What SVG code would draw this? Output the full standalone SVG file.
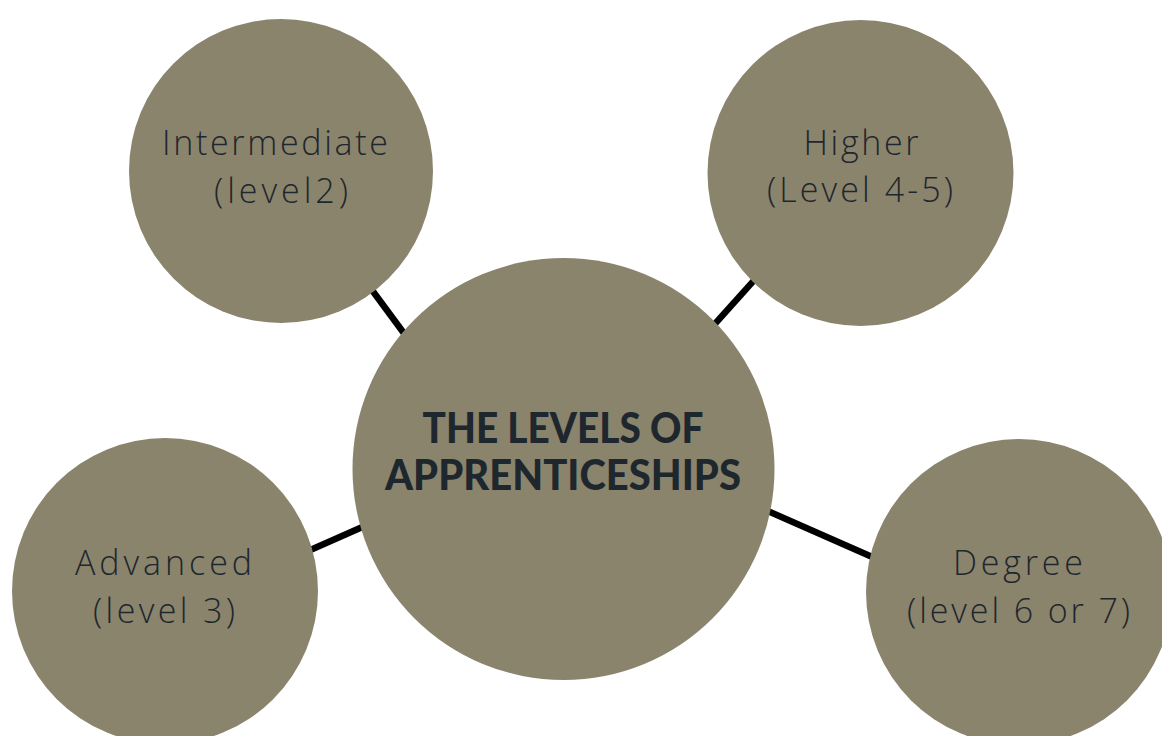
<svg xmlns="http://www.w3.org/2000/svg" width="1162" height="736" viewBox="0 0 1162 736">
  <style>
    .node { fill: #8a846c; }
    .conn { stroke: #000000; stroke-width: 6.5; stroke-linecap: butt; fill: none; }
    .lbl { font-family: "Open Sans", "Liberation Sans", sans-serif; font-weight: 300; font-size: 34px; fill: #1f272e; text-anchor: middle; }
    .title { font-family: Lato, "Liberation Sans", sans-serif; font-weight: 900; font-size: 42px; fill: #1f272e; text-anchor: middle; }
  </style>
  <rect x="0" y="0" width="1162" height="736" fill="#ffffff"/>
  <g id="connectors">
    <line class="conn" x1="352" y1="263" x2="420" y2="355"/>
    <line class="conn" x1="775" y1="257" x2="695" y2="346"/>
    <line class="conn" x1="290" y1="559" x2="385" y2="517"/>
    <line class="conn" x1="745" y1="501" x2="895" y2="567"/>
  </g>
  <g id="node-intermediate">
    <circle class="node" cx="281" cy="171" r="152"/>
    <text class="lbl" x="275" y="155" textLength="226" lengthAdjust="spacing">Intermediate</text>
    <text class="lbl" x="281" y="203" textLength="134" lengthAdjust="spacing">(level2)</text>
  </g>
  <g id="node-higher">
    <circle class="node" cx="860.5" cy="173" r="153"/>
    <text class="lbl" x="861" y="155" textLength="115" lengthAdjust="spacing">Higher</text>
    <text class="lbl" x="860" y="202" textLength="186" lengthAdjust="spacing">(Level 4-5)</text>
  </g>
  <g id="node-center">
    <circle class="node" cx="563.5" cy="469" r="211"/>
    <text class="title" x="563" y="443" textLength="281" lengthAdjust="spacingAndGlyphs">THE LEVELS OF</text>
    <text class="title" x="563" y="490" textLength="356" lengthAdjust="spacingAndGlyphs">APPRENTICESHIPS</text>
  </g>
  <g id="node-advanced">
    <circle class="node" cx="165" cy="591" r="153"/>
    <text class="lbl" x="163.5" y="575" textLength="177" lengthAdjust="spacing">Advanced</text>
    <text class="lbl" x="164" y="623" textLength="142" lengthAdjust="spacing">(level 3)</text>
  </g>
  <g id="node-degree">
    <circle class="node" cx="1019" cy="592" r="153"/>
    <text class="lbl" x="1018" y="575" textLength="130" lengthAdjust="spacing">Degree</text>
    <text class="lbl" x="1018.5" y="623" textLength="223" lengthAdjust="spacing">(level 6 or 7)</text>
  </g>
</svg>
